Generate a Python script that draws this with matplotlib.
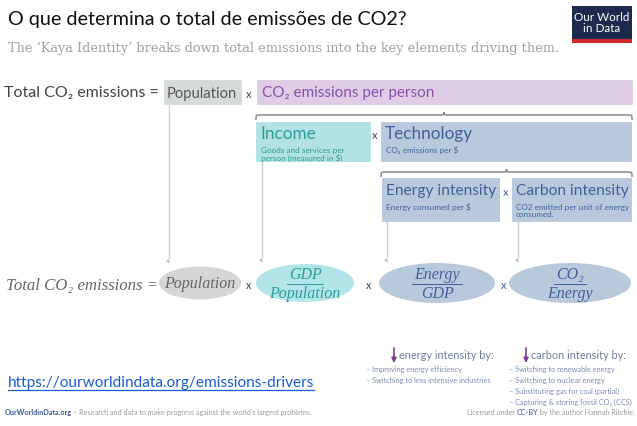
import matplotlib
matplotlib.use("Agg")
import matplotlib.pyplot as plt
from matplotlib.patches import Rectangle, Ellipse, FancyArrowPatch
from matplotlib.path import Path
from matplotlib.patches import PathPatch

title = "O que determina o total de emissões de CO2?"
subtitle = "The \u2018Kaya Identity\u2019 breaks down total emissions into the key elements driving them."
row1_labels = ["Total CO\u2082 emissions =", "Population", "CO\u2082 emissions per person"]
row2_titles = ["Income", "Technology"]
row2_notes = ["Goods and services per\nperson (measured in $)", "CO\u2082 emissions per $"]
row3_titles = ["Energy intensity", "Carbon intensity"]
row3_notes = ["Energy consumed per $", "CO2 emitted per unit of energy\nconsumed."]
ellipse_top = ["Population", "GDP", "Energy", "CO\u2082"]
ellipse_bottom = [None, "Population", "GDP", "Energy"]
energy_actions = ["\u2013 Improving energy efficiency",
                  "\u2013 Switching to less intensive industries"]
carbon_actions = ["\u2013 Switching to renewable energy",
                  "\u2013 Switching to nuclear energy",
                  "\u2013 Substituting gas for coal (partial)",
                  "\u2013 Capturing & storing fossil CO\u2082 (CCS)"]
link = "https://ourworldindata.org/emissions-drivers"

SANS = ["Lato", "DejaVu Sans"]
SERIF = ["DejaVu Serif"]
TIMES = ["Liberation Serif", "DejaVu Serif"]
GREY_BOX, GREY_TXT = "#d7dada", "#555555"
PURPLE_BOX, PURPLE_TXT = "#ddcde5", "#8c4fad"
TEAL_BOX, TEAL_TXT = "#b2e2e6", "#2e9d97"
BLUE_BOX, BLUE_TXT = "#b9c9dc", "#3f619b"

fig = plt.figure(figsize=(6.37, 4.27), dpi=100)
ax = fig.add_axes([0, 0, 1, 1])
ax.set_xlim(0, 637)
ax.set_ylim(427, 0)
ax.axis("off")
renderer = fig.canvas.get_renderer()


def box(x0, y0, x1, y1, color):
    ax.add_patch(Rectangle((x0, y0), x1 - x0, y1 - y0, facecolor=color,
                           edgecolor="white", lw=0.8))


def brace(x0, x1, y, h=5, color="#8a8a8a"):
    xm = (x0 + x1) / 2
    verts = [(x0, y + h), (x0, y), (x0, y), (x0 + h, y),
             (xm - h, y), (xm, y), (xm, y), (xm, y - h * 0.6),
             (xm, y - h * 0.6), (xm, y), (xm, y), (xm + h, y),
             (x1 - h, y), (x1, y), (x1, y), (x1, y + h)]
    codes = [Path.MOVETO, Path.CURVE4, Path.CURVE4, Path.CURVE4,
             Path.LINETO, Path.CURVE4, Path.CURVE4, Path.CURVE4,
             Path.MOVETO, Path.CURVE4, Path.CURVE4, Path.CURVE4,
             Path.LINETO, Path.CURVE4, Path.CURVE4, Path.CURVE4]
    ax.add_patch(PathPatch(Path(verts, codes), fill=False, edgecolor=color, lw=1.1))


def connector(x, y0, y1):
    ax.plot([x, x], [y0, y1 - 7], color="#cfcfcf", lw=1.0)
    ax.add_patch(FancyArrowPatch((x, y1 - 7), (x + 3, y1), arrowstyle="-|>",
                                 mutation_scale=4, color="#c0c0c0", lw=0.8,
                                 connectionstyle="arc3,rad=0.4"))


def text_width(t):
    return t.get_window_extent(renderer).width


# header
ax.text(8, 19, title, fontsize=14.2, family=SANS, color="#111111", va="center")
ax.text(8, 48, subtitle, fontsize=9.3, family=SERIF, color="#a0a0a0", va="center")
ax.add_patch(Rectangle((572, 7), 60, 37, facecolor="#1d2a4d"))
ax.add_patch(Rectangle((572, 40), 60, 4, facecolor="#cf2a2f"))
ax.text(602, 23, "Our World\nin Data", fontsize=8.4, family=SANS, color="white",
        ha="center", va="center", linespacing=0.95)

# row 1
ax.text(4, 93, row1_labels[0], fontsize=11.5, family=SANS, color="#444444", va="center")
box(163, 80, 242, 106, GREY_BOX)
ax.text(167, 94, row1_labels[1], fontsize=10.6, family=SANS, color=GREY_TXT, va="center")
ax.text(249, 94, "x", fontsize=8, family=SANS, color="#444444", va="center", ha="center")
box(256, 80, 633, 106, PURPLE_BOX)
ax.text(262, 93, row1_labels[2], fontsize=11.0, family=SANS, color=PURPLE_TXT, va="center")

# row 2
brace(256, 632, 116)
for (x0, x1, col, tcol), ttl, note in zip(
        [(255, 371, TEAL_BOX, TEAL_TXT), (380, 632, BLUE_BOX, BLUE_TXT)],
        row2_titles, row2_notes):
    box(x0, 122, x1, 163, col)
    ax.text(x0 + 5, 134, ttl, fontsize=12.3, family=SANS, color=tcol, va="center")
    ax.text(x0 + 6, 147, note, fontsize=5.9, family=SANS, color=tcol, va="top",
            linespacing=1.0)
ax.text(375, 136, "x", fontsize=8, family=SANS, color="#444444", va="center", ha="center")

# row 3
brace(381, 632, 173)
for (x0, x1), ttl, note in zip([(381, 500), (511, 632)], row3_titles, row3_notes):
    box(x0, 178, x1, 223, BLUE_BOX)
    ax.text(x0 + 5, 191, ttl, fontsize=11.2, family=SANS, color=BLUE_TXT, va="center")
    ax.text(x0 + 5, 204, note, fontsize=5.9, family=SANS, color=BLUE_TXT, va="top",
            linespacing=1.0)
ax.text(505.5, 193, "x", fontsize=8, family=SANS, color=BLUE_TXT, va="center", ha="center")

# connectors
connector(169, 106, 266)
connector(262, 163, 265)
connector(387, 223, 265)
connector(518, 223, 265)

# equation with ellipses
ax.text(6, 286, "Total CO\u2082 emissions =", fontsize=12.1, family=TIMES, style="italic",
        color="#666666", va="center")
ell = [(200, 284, 82, 33, "#d6d6d6", "#666666"),
       (305, 284, 98, 38, "#b3e4ea", TEAL_TXT),
       (437, 284, 116, 40, BLUE_BOX, BLUE_TXT),
       (570, 284, 122, 40, BLUE_BOX, BLUE_TXT)]
for (cx, cy, w, h, fc, tc), top, bot in zip(ell, ellipse_top, ellipse_bottom):
    ax.add_patch(Ellipse((cx, cy), w, h, facecolor=fc, edgecolor="none"))
    if bot is None:
        ax.text(cx, cy, top, fontsize=11.5, family=TIMES, style="italic", color=tc,
                ha="center", va="center")
    else:
        t = ax.text(cx, cy - 9, top, fontsize=11.5, family=TIMES, style="italic",
                    color=tc, ha="center", va="center")
        ax.text(cx, cy + 10, bot, fontsize=11.5, family=TIMES, style="italic",
                color=tc, ha="center", va="center")
        hw = text_width(t) / 2 + 2
        ax.plot([cx - hw, cx + hw], [cy + 1, cy + 1], color=tc, lw=0.7)
for x, c in [(249, "#444444"), (369, "#444444"), (504, BLUE_TXT)]:
    ax.text(x, 286, "x", fontsize=8, family=SANS, color=c, ha="center", va="center")

# bottom actions
for x, label in [(394, "energy intensity by:"), (526, "carbon intensity by:")]:
    ax.annotate("", xy=(x, 364), xytext=(x, 349),
                arrowprops=dict(arrowstyle="-|>", color="#7a3d91", lw=1.2,
                                mutation_scale=7, shrinkA=0, shrinkB=0))
    ax.text(x + 5, 356, label, fontsize=7.8, family=SANS, color="#6f7fa3", va="center")
for i, s in enumerate(energy_actions):
    ax.text(366, 370 + i * 10.8, s, fontsize=5.3, family=SANS, color="#7c8cb0", va="center")
for i, s in enumerate(carbon_actions):
    ax.text(509, 370 + i * 10.8, s, fontsize=5.3, family=SANS, color="#7c8cb0", va="center")

# link
lt = ax.text(8, 383, link, fontsize=11.1, family=SANS, color="#1a5bd0", va="center")
lw_ = text_width(lt)
ax.plot([8, 8 + lw_], [391, 391], color="#1a5bd0", lw=0.9)

# footer
f1 = ax.text(5, 413, "OurWorldinData.org", fontsize=5.2, family=SANS,
             color="#3b5a9a", va="center", weight="bold")
ax.text(5 + text_width(f1) + 1, 413,
        "\u2013 Research and data to make progress against the world\u2019s largest problems.",
        fontsize=5.2, family=SANS, color="#9a9a9a", va="center")
r3 = ax.text(635, 413, " by the author Hannah Ritchie.", fontsize=5.2, family=SANS,
             color="#9a9a9a", va="center", ha="right")
x_cc = 635 - text_width(r3)
r2 = ax.text(x_cc, 413, "CC-BY", fontsize=5.2, family=SANS, color="#3b5a9a",
             va="center", ha="right")
ax.text(x_cc - text_width(r2), 413, "Licensed under ", fontsize=5.2, family=SANS,
        color="#9a9a9a", va="center", ha="right")

fig.savefig("out.png", dpi=100, facecolor="white")
